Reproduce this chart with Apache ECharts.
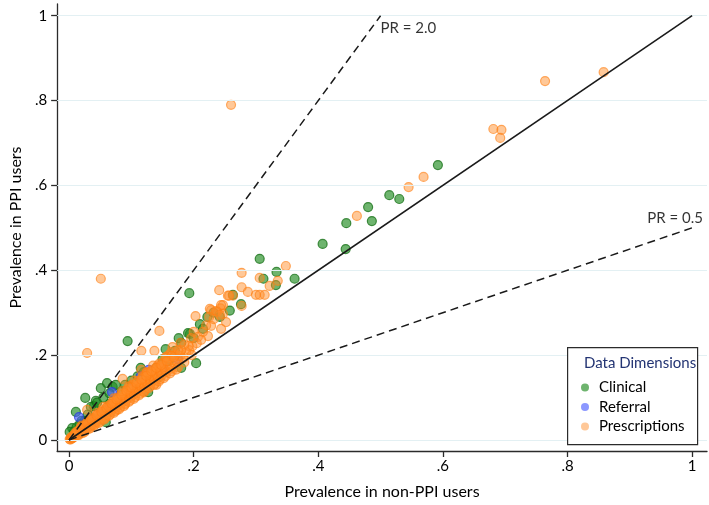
<!DOCTYPE html>
<html>
<head>
<meta charset="utf-8">
<script src="https://cdn.jsdelivr.net/npm/echarts@6/dist/echarts.min.js"></script>
<style>html,body{margin:0;padding:0;background:#fff}#c{width:709px;height:505px}</style>
</head>
<body>
<div id="c"></div>
<script>
// ---- data ----
var tickValues = [0, 0.2, 0.4, 0.6, 0.8, 1];
var tickLabels = ['0', '.2', '.4', '.6', '.8', '1'];
var xAxisTitle = 'Prevalence in non-PPI users';
var yAxisTitle = 'Prevalence in PPI users';
var legendTitle = 'Data Dimensions';
var seriesNames = ['Clinical', 'Referral', 'Prescriptions'];

var clinical = [
  [0.592,0.648],[0.514,0.577],[0.530,0.568],[0.480,0.549],[0.445,0.511],[0.486,0.516],
  [0.407,0.462],[0.444,0.450],[0.306,0.427],[0.333,0.396],[0.312,0.380],[0.362,0.380],
  [0.332,0.365],[0.193,0.346],[0.263,0.342],[0.276,0.320],[0.222,0.290],[0.242,0.290],
  [0.210,0.273],[0.194,0.250],[0.191,0.252],[0.176,0.240],[0.180,0.229],[0.094,0.233],
  [0.155,0.214],[0.204,0.181],[0.180,0.170],[0.127,0.113],[0.051,0.122],[0.061,0.134],
  [0.070,0.125],[0.026,0.099],[0.040,0.080],[0.043,0.092],[0.011,0.066],[0.059,0.042],
  [0.144,0.148],[0.075,0.130],[0.005,0.028],[0.001,0.019],[0.008,0.020],[0.012,0.030],
  [0.020,0.045],[0.030,0.060],[0.035,0.078],[0.045,0.088],[0.055,0.100],[0.065,0.110],
  [0.085,0.115],[0.090,0.130],[0.100,0.140],[0.110,0.150],[0.120,0.160],[0.130,0.140],
  [0.140,0.170],[0.150,0.190],[0.160,0.186],[0.170,0.210],[0.065,0.085],[0.080,0.100],
  [0.105,0.125],[0.115,0.170],[0.120,0.135],[0.050,0.050],[0.025,0.045],[0.017,0.037],
  [0.200,0.240],[0.215,0.262],[0.232,0.300],[0.258,0.305]
];
var referral = [
  [0.175,0.190],[0.069,0.113],[0.128,0.165],[0.016,0.054],[0.100,0.120],[0.060,0.070],
  [0.150,0.170],[0.040,0.050],[0.115,0.150]
];
var prescriptions = [
  [0.858,0.867],[0.764,0.846],[0.681,0.733],[0.694,0.731],[0.692,0.712],[0.569,0.620],
  [0.545,0.596],[0.462,0.528],[0.348,0.410],[0.277,0.394],[0.306,0.382],[0.335,0.375],
  [0.322,0.363],[0.277,0.360],[0.241,0.353],[0.287,0.349],[0.255,0.340],[0.263,0.340],
  [0.300,0.342],[0.306,0.342],[0.314,0.342],[0.247,0.318],[0.243,0.310],[0.277,0.316],
  [0.228,0.306],[0.238,0.302],[0.203,0.292],[0.247,0.297],[0.252,0.278],[0.228,0.269],
  [0.244,0.262],[0.260,0.790],[0.051,0.380],[0.029,0.205],[0.145,0.257],[0.116,0.210],
  [0.137,0.210],[0.226,0.309],[0.236,0.304],[0.244,0.318],[0.242,0.295],[0.257,0.340],
  [0.200,0.255],[0.207,0.243],[0.223,0.245],[0.179,0.229],[0.196,0.240],[0.166,0.219],
  [0.164,0.207],[0.160,0.200],[0.156,0.196],[0.147,0.172],[0.140,0.167],[0.131,0.160],
  [0.116,0.165],[0.124,0.158],[0.086,0.144],[0.077,0.071],[0.029,0.071],
  [0.001,0.002],[0.002,0.001],[0.003,0.004],[0.003,0.006],[0.004,0.003],[0.005,0.007],
  [0.005,0.004],[0.006,0.009],[0.007,0.006],[0.008,0.011],[0.008,0.007],[0.009,0.013],
  [0.010,0.009],[0.011,0.015],[0.012,0.011],[0.013,0.018],[0.013,0.012],[0.014,0.016],
  [0.015,0.021],[0.016,0.014],[0.017,0.024],[0.018,0.019],[0.019,0.017],[0.020,0.026],
  [0.021,0.022],[0.022,0.020],[0.023,0.030],[0.024,0.025],[0.025,0.023],[0.026,0.034],
  [0.027,0.028],[0.028,0.033],[0.029,0.027],[0.030,0.037],[0.031,0.032],[0.032,0.030],
  [0.033,0.040],[0.034,0.036],[0.035,0.033],[0.036,0.044],[0.037,0.039],[0.038,0.036],
  [0.039,0.047],[0.040,0.042],[0.041,0.039],[0.042,0.051],[0.043,0.046],[0.044,0.042],
  [0.045,0.055],[0.046,0.049],[0.047,0.045],[0.048,0.058],[0.049,0.052],[0.050,0.049],
  [0.051,0.061],[0.052,0.056],[0.053,0.052],[0.054,0.065],[0.055,0.060],[0.056,0.055],
  [0.057,0.068],[0.058,0.063],[0.059,0.058],[0.060,0.072],[0.061,0.066],[0.062,0.062],
  [0.063,0.075],[0.064,0.070],[0.065,0.066],[0.066,0.079],[0.067,0.073],[0.068,0.069],
  [0.069,0.082],[0.070,0.077],[0.071,0.073],[0.072,0.086],[0.073,0.080],[0.074,0.076],
  [0.075,0.090],[0.076,0.084],[0.077,0.080],[0.078,0.093],[0.079,0.087],[0.080,0.083],
  [0.082,0.097],[0.083,0.091],[0.084,0.087],[0.086,0.102],[0.087,0.095],[0.088,0.091],
  [0.090,0.106],[0.091,0.099],[0.092,0.095],[0.094,0.110],[0.095,0.104],[0.096,0.099],
  [0.098,0.115],[0.099,0.108],[0.100,0.103],[0.102,0.119],[0.103,0.112],[0.104,0.107],
  [0.106,0.124],[0.107,0.117],[0.108,0.111],[0.110,0.128],[0.111,0.121],[0.112,0.116],
  [0.114,0.133],[0.115,0.126],[0.117,0.121],[0.118,0.138],[0.120,0.131],[0.121,0.125],
  [0.123,0.143],[0.125,0.136],[0.126,0.130],[0.128,0.149],[0.130,0.141],[0.131,0.135],
  [0.133,0.155],[0.135,0.146],[0.137,0.140],[0.139,0.161],[0.141,0.152],[0.143,0.147],
  [0.145,0.168],[0.147,0.158],[0.149,0.153],[0.151,0.174],[0.154,0.165],[0.156,0.160],
  [0.158,0.181],[0.161,0.172],[0.164,0.168],[0.167,0.189],[0.170,0.180],[0.174,0.186],
  [0.178,0.198],[0.183,0.193],[0.188,0.207],[0.193,0.212],[0.198,0.221],[0.205,0.228],
  [0.212,0.236],[0.060,0.055],[0.090,0.084],[0.120,0.112],[0.140,0.130],[0.035,0.052],
  [0.055,0.078],[0.072,0.098],[0.098,0.128],[0.118,0.150],[0.020,0.034],[0.045,0.064],
  [0.010,0.016],[0.015,0.011],[0.020,0.030],[0.025,0.019],[0.030,0.042],[0.034,0.028],
  [0.038,0.050],[0.042,0.036],[0.046,0.060],[0.050,0.043],[0.054,0.070],[0.058,0.051],
  [0.062,0.080],[0.066,0.060],[0.070,0.090],[0.074,0.068],[0.078,0.100],[0.082,0.076],
  [0.086,0.110],[0.090,0.086],[0.094,0.120],[0.098,0.093],[0.102,0.130],[0.106,0.101],
  [0.110,0.139],[0.114,0.109],[0.118,0.146],[0.122,0.118],[0.126,0.157],[0.130,0.126],
  [0.134,0.165],[0.138,0.133],[0.142,0.175],[0.146,0.143],[0.150,0.182],[0.155,0.151],
  [0.160,0.192],[0.165,0.162],[0.170,0.200],[0.175,0.171],[0.180,0.212],[0.185,0.183],
  [0.192,0.222],[0.197,0.200],[0.105,0.140],[0.095,0.125],[0.085,0.115],[0.125,0.160],
  [0.135,0.175],[0.145,0.180],[0.155,0.195],[0.165,0.198],[0.175,0.212],[0.185,0.225],
  [0.215,0.255],[0.220,0.270],[0.225,0.290],[0.232,0.285],
  [0.012,0.020],[0.018,0.028],[0.022,0.016],[0.028,0.040],[0.032,0.026],[0.036,0.048],
  [0.040,0.034],[0.044,0.058],[0.048,0.040],[0.052,0.066],[0.056,0.048],[0.060,0.076],
  [0.064,0.057],[0.068,0.086],[0.072,0.064],[0.076,0.096],[0.080,0.072],[0.084,0.106],
  [0.088,0.080],[0.092,0.116],[0.096,0.090],[0.100,0.124],[0.104,0.097],[0.108,0.134],
  [0.112,0.105],[0.116,0.142],[0.120,0.114],[0.124,0.151],[0.128,0.122],[0.132,0.162],
  [0.136,0.130],[0.140,0.170],[0.144,0.138],[0.148,0.177],[0.152,0.146],[0.157,0.186],
  [0.162,0.157],[0.168,0.195],[0.172,0.166],[0.178,0.205]
];
var lineEqual = [[0, 0], [1, 1]];
var lineRatio2 = [[0, 0], [0.5, 1]];
var lineRatioHalf = [[0, 0], [1, 0.5]];
var annotations = [
  {name: 'PR = 2.0', value: [0.5, 0.971]},
  {name: 'PR = 0.5', value: [0.928, 0.522]}
];

// ---- chart ----
var FONT = 'Lato';
var chart = echarts.init(document.getElementById('c'), null, {renderer: 'canvas'});
function fmt(v) {
  var i = tickValues.indexOf(Math.round(v * 10) / 10);
  return i >= 0 ? tickLabels[i] : '';
}
var axisCommon = {
  type: 'value',
  axisLine: {show: true, onZero: false, lineStyle: {color: '#2b2b2b', width: 1.3}},
  axisTick: {show: true, inside: false, length: 6, customValues: tickValues, lineStyle: {color: '#2b2b2b', width: 1.3}},
  axisLabel: {customValues: tickValues, formatter: fmt, fontFamily: FONT, fontSize: 15, color: '#000'},
  splitLine: {show: false},
  nameLocation: 'middle',
  nameTextStyle: {fontFamily: FONT, fontSize: 16, color: '#000'}
};
var scatterCommon = {type: 'scatter', symbol: 'circle', symbolSize: 9, emphasis: {disabled: true}};

chart.setOption({
  animation: false,
  grid: {left: 53, right: 2, top: 4, bottom: 54},
  xAxis: Object.assign({}, axisCommon, {
    min: -0.0191, max: 1.0239, name: xAxisTitle, nameGap: 33,
    axisLabel: Object.assign({}, axisCommon.axisLabel, {margin: 8})
  }),
  yAxis: Object.assign({}, axisCommon, {
    min: -0.026, max: 1.0276, name: yAxisTitle, nameGap: 33,
    axisLabel: Object.assign({}, axisCommon.axisLabel, {margin: 10})
  }),
  legend: {
    data: seriesNames,
    orient: 'vertical',
    left: 576, top: 375, z: 60,
    itemWidth: 8, itemHeight: 8, itemGap: 4.5,
    icon: 'circle',
    itemStyle: {borderWidth: 0},
    textStyle: {fontFamily: FONT, fontSize: 15, color: '#000', padding: [0, 0, 0, 5]}
  },
  graphic: [
    {type: 'rect', left: 567, top: 347, z: 50,
     shape: {width: 130, height: 97},
     style: {fill: '#fff', stroke: '#2b2b2b', lineWidth: 1.2}},
    {type: 'text', left: 584, top: 356, z: 51,
     style: {text: legendTitle, fill: '#233473', font: '15px ' + FONT}}
  ],
  series: [
    Object.assign({}, scatterCommon, {
      name: seriesNames[0], data: clinical, z: 2,
      itemStyle: {color: 'rgba(34,140,34,0.82)', borderColor: 'rgba(20,110,20,0.95)', borderWidth: 1.2},
      markLine: {
        silent: true, symbol: 'none', label: {show: false},
        lineStyle: {color: '#e3f0f3', width: 1, type: 'solid'},
        data: tickValues.map(function (v) { return {yAxis: v}; })
      }
    }),
    Object.assign({}, scatterCommon, {
      name: seriesNames[1], data: referral, z: 2,
      itemStyle: {color: 'rgba(70,90,255,0.78)', borderColor: 'rgba(45,60,220,0.95)', borderWidth: 1.2}
    }),
    Object.assign({}, scatterCommon, {
      name: seriesNames[2], data: prescriptions, z: 2,
      itemStyle: {color: 'rgba(255,140,40,0.6)', borderColor: 'rgba(255,128,20,0.8)', borderWidth: 1.2}
    }),
    {type: 'line', data: lineEqual, z: 5, symbol: 'none', silent: true,
     lineStyle: {color: '#1a1a1a', width: 1.6, type: 'solid'}},
    {type: 'line', data: lineRatio2, z: 5, symbol: 'none', silent: true,
     lineStyle: {color: '#1a1a1a', width: 1.5, type: [8, 5]}},
    {type: 'line', data: lineRatioHalf, z: 5, symbol: 'none', silent: true,
     lineStyle: {color: '#1a1a1a', width: 1.5, type: [8, 5]}},
    {type: 'scatter', data: annotations, symbolSize: 0, silent: true, z: 6,
     label: {show: true, position: 'right', distance: 0, formatter: '{b}',
             fontFamily: FONT, fontSize: 15, color: '#000'}}
  ]
});
</script>
</body>
</html>
